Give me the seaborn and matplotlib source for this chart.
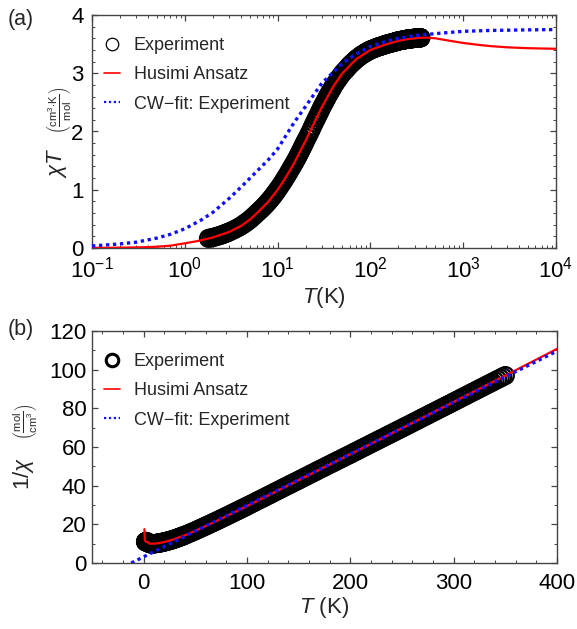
import numpy as np
import pandas as pd
import matplotlib
matplotlib.use("Agg")
import matplotlib.pyplot as plt
import seaborn as sns
from matplotlib.lines import Line2D
from matplotlib.ticker import LogLocator, MultipleLocator, NullFormatter, LogFormatterMathtext

# ---------------- measured susceptibility (chi*T, cm^3 K / mol) ----------------
T_exp = [
    1.8, 1.9, 2.0, 2.1, 2.2, 2.3, 2.4, 2.5, 2.6, 2.7, 2.8, 2.9, 3.0,
    3.2, 3.4, 3.6, 3.8, 4.0, 4.2, 4.4, 4.6, 4.8, 5.0,
    5.25, 5.5, 5.75, 6.0, 6.25, 6.5, 6.75, 7.0, 7.25, 7.5, 7.75, 8.0,
    8.25, 8.5, 8.75, 9.0, 9.25, 9.5, 9.75, 10.0,
    10.4, 10.8, 11.2, 11.6, 12.0, 12.4, 12.8, 13.2, 13.6, 14.0, 14.4, 14.8,
    15.2, 15.6, 16.0, 16.4, 16.8, 17.2, 17.6, 18.0, 18.4, 18.8, 19.2, 19.6, 20.0,
    20.8, 21.6, 22.4, 23.2, 24.0, 24.8, 25.6, 26.4, 27.2, 28.0, 28.8, 29.6,
    30.4, 31.2, 32.0, 32.8, 33.6, 34.4, 35.2, 36.0, 36.8, 37.6, 38.4, 39.2, 40.0,
    42, 44, 46, 48, 50, 52, 54, 56, 58, 60, 62, 64, 66, 68, 70, 72, 74, 76, 78, 80,
    82, 84, 86, 88, 90, 92, 94, 96, 98, 100,
    102.5, 105, 107.5, 110, 112.5, 115, 117.5, 120, 122.5, 125, 127.5, 130,
    132.5, 135, 137.5, 140, 142.5, 145, 147.5, 150, 152.5, 155, 157.5, 160,
    162.5, 165, 167.5, 170, 172.5, 175, 177.5, 180, 182.5, 185, 187.5, 190,
    192.5, 195, 197.5, 200, 202.5, 205, 207.5, 210, 212.5, 215, 217.5, 220,
    222.5, 225, 227.5, 230, 232.5, 235, 237.5, 240, 242.5, 245, 247.5, 250,
    252.5, 255, 257.5, 260, 262.5, 265, 267.5, 270, 272.5, 275, 277.5, 280,
    282.5, 285, 287.5, 290, 292.5, 295, 297.5, 300, 302.5, 305, 307.5, 310,
    312.5, 315, 317.5, 320, 322.5, 325, 327.5, 330, 332.5, 335, 337.5, 340,
    342.5, 345, 347.5, 350,
]
chiT_exp = [
    0.165, 0.172, 0.180, 0.189, 0.198, 0.207, 0.216, 0.225, 0.235, 0.245, 0.255, 0.265, 0.275,
    0.295, 0.315, 0.335, 0.355, 0.375, 0.397, 0.419, 0.441, 0.463, 0.485,
    0.514, 0.543, 0.571, 0.600, 0.625, 0.650, 0.675, 0.700, 0.725, 0.750, 0.775, 0.800,
    0.825, 0.850, 0.875, 0.900, 0.925, 0.950, 0.975, 1.000,
    1.038, 1.076, 1.114, 1.152, 1.190, 1.226, 1.262, 1.298, 1.334, 1.370, 1.402, 1.434,
    1.466, 1.498, 1.530, 1.562, 1.594, 1.626, 1.658, 1.690, 1.720, 1.750, 1.780, 1.810, 1.840,
    1.891, 1.942, 1.994, 2.045, 2.096, 2.147, 2.191, 2.233, 2.274, 2.316, 2.358, 2.399,
    2.436, 2.468, 2.500, 2.532, 2.564, 2.596, 2.626, 2.652, 2.678, 2.703, 2.729, 2.754, 2.780,
    2.828, 2.876, 2.920, 2.960, 3.000, 3.028, 3.056, 3.084, 3.112, 3.140, 3.160, 3.180,
    3.200, 3.220, 3.240, 3.254, 3.268, 3.282, 3.296, 3.310,
    3.320, 3.330, 3.340, 3.350, 3.360, 3.368, 3.376, 3.384, 3.392, 3.400,
    3.406, 3.413, 3.419, 3.425, 3.431, 3.438, 3.444, 3.450, 3.454, 3.458, 3.463, 3.467,
    3.471, 3.475, 3.479, 3.483, 3.488, 3.492, 3.496, 3.500, 3.503, 3.506, 3.508, 3.511,
    3.514, 3.517, 3.519, 3.522, 3.525, 3.528, 3.530, 3.533, 3.536, 3.539, 3.541, 3.544,
    3.547, 3.550, 3.552, 3.555, 3.557, 3.558, 3.560, 3.561, 3.562, 3.564, 3.565, 3.567,
    3.569, 3.570, 3.572, 3.573, 3.574, 3.576, 3.578, 3.579, 3.580, 3.582, 3.583, 3.585,
    3.586, 3.586, 3.587, 3.588, 3.589, 3.590, 3.590, 3.591, 3.592, 3.593, 3.593, 3.594,
    3.595, 3.596, 3.596, 3.597, 3.598, 3.599, 3.599, 3.600, 3.600, 3.601, 3.601, 3.602,
    3.602, 3.603, 3.603, 3.604, 3.604, 3.605, 3.605, 3.606, 3.606, 3.607, 3.607, 3.608,
    3.608, 3.609, 3.609, 3.610,
]

# ---------------- Husimi-cactus ansatz ----------------
T_hus = [0.1, 0.15, 0.2, 0.3, 0.4, 0.5, 0.7, 1.0, 1.4, 2.0, 3.0, 4.0, 5.0, 6.0, 8.0,
         10, 12, 15, 20, 25, 30, 40, 50, 70, 100, 150, 200, 250, 300, 350, 400,
         500, 700, 1000, 1500, 2000, 3000, 5000, 7000, 10000]
chiT_hus = [0.003, 0.004, 0.006, 0.010, 0.015, 0.022, 0.040, 0.080, 0.122, 0.180,
            0.275, 0.375, 0.485, 0.600, 0.800, 1.000, 1.190, 1.450, 1.840, 2.160,
            2.420, 2.780, 3.000, 3.240, 3.400, 3.500, 3.555, 3.585, 3.600, 3.610,
            3.612, 3.600, 3.560, 3.520, 3.485, 3.465, 3.445, 3.430, 3.425, 3.420]

# ---------------- Curie-Weiss fit ----------------
T_cw = [0.1, 0.2, 0.3, 0.5, 0.7, 1.0, 1.5, 2.0, 3.0, 4.0, 6.0, 8.0, 10, 15, 20, 30,
        50, 70, 100, 150, 200, 300, 500, 1000, 2000, 5000, 10000]
chiT_cw = [0.035, 0.070, 0.100, 0.170, 0.235, 0.330, 0.480, 0.610, 0.850, 1.040,
           1.320, 1.520, 1.700, 2.150, 2.430, 2.830, 3.170, 3.330, 3.460, 3.550,
           3.600, 3.645, 3.680, 3.720, 3.735, 3.745, 3.750]
# inverse susceptibility of the fit, a straight line in T
T_cw_lin = [-12.0, 400.0]
inv_cw_lin = [0.0, 109.6]

labels = ["Experiment", "Husimi Ansatz", "CW\u2212fit: Experiment"]

# ---------------- tables ----------------
exp_df = pd.DataFrame({"T": T_exp, "chiT": chiT_exp})
exp_df["inv"] = exp_df["T"] / exp_df["chiT"]
hus_df = pd.DataFrame({"T": T_hus, "chiT": chiT_hus})
hus_df["inv"] = hus_df["T"] / hus_df["chiT"]
hus_lin = hus_df[(hus_df["T"] >= 0.7) & (hus_df["T"] <= 400)]
cw_df = pd.DataFrame({"T": T_cw, "chiT": chiT_cw})
cw_lin = pd.DataFrame({"T": T_cw_lin, "inv": inv_cw_lin})

# ---------------- style ----------------
sns.set_theme(style="ticks")
plt.rcParams.update({
    "mathtext.fontset": "custom",
    "mathtext.rm": "Liberation Sans",
    "mathtext.it": "Liberation Sans:italic",
    "mathtext.bf": "Liberation Sans:bold",
    "axes.linewidth": 1.0,
    "axes.edgecolor": "#444444",
})
plt.rcParams["font.family"] = ["Liberation Sans", "DejaVu Sans"]

W, H = 577, 629
fig = plt.figure(figsize=(W / 100, H / 100), dpi=100)


def px_axes(left, top, right, bottom):
    return fig.add_axes([left / W, 1 - bottom / H, (right - left) / W, (bottom - top) / H])


ax1 = px_axes(92, 15, 556, 248)
ax2 = px_axes(92, 331, 557, 563)

RED = "#ff0000"
BLUE = "#1010ff"
MS_AREA = 150
EXP_LW = 1.6
TICK_FS = 16


def style_axes(ax):
    ax.tick_params(which="both", direction="in", top=True, right=True,
                   color="#444444", labelsize=TICK_FS, labelcolor="black")
    ax.tick_params(which="major", length=4.5, width=0.9)
    ax.tick_params(which="minor", length=2.5, width=0.7)
    for s in ax.spines.values():
        s.set_visible(True)


def add_blue_dots(ax):
    line = ax.lines[-1]
    line.set_dashes([1.0, 1.1])
    line.set_dash_capstyle("butt")


# ---------------- panel (a) ----------------
ax1.set_xscale("log")
sns.scatterplot(data=exp_df, x="T", y="chiT", ax=ax1, marker="o", s=MS_AREA,
                color="black", linewidth=EXP_LW, legend=False, zorder=2)
coll = ax1.collections[-1]
coll.set_facecolor("none")
coll.set_edgecolor("black")
sns.lineplot(data=hus_df, x="T", y="chiT", ax=ax1, color=RED, linewidth=1.6,
             sort=False, estimator=None, legend=False, zorder=3)
sns.lineplot(data=cw_df, x="T", y="chiT", ax=ax1, color=BLUE, linewidth=2.4,
             sort=False, estimator=None, legend=False, zorder=4)
add_blue_dots(ax1)

ax1.set_xlim(0.1, 1e4)
ax1.set_ylim(0, 4)
ax1.xaxis.set_major_locator(LogLocator(base=10, numticks=10))
ax1.xaxis.set_minor_locator(LogLocator(base=10, subs=np.arange(2, 10), numticks=50))
ax1.xaxis.set_major_formatter(LogFormatterMathtext())
ax1.xaxis.set_minor_formatter(NullFormatter())
ax1.yaxis.set_major_locator(MultipleLocator(1))
ax1.yaxis.set_minor_locator(MultipleLocator(0.2))
style_axes(ax1)
ax1.tick_params(axis="x", pad=6)
ax1.tick_params(axis="y", pad=6)
ax1.set_xlabel("")
ax1.set_ylabel("")

# ---------------- panel (b) ----------------
sns.scatterplot(data=exp_df, x="T", y="inv", ax=ax2, marker="o", s=MS_AREA,
                color="black", linewidth=EXP_LW, legend=False, zorder=2)
coll = ax2.collections[-1]
coll.set_facecolor("none")
coll.set_edgecolor("black")
sns.lineplot(data=hus_lin, x="T", y="inv", ax=ax2, color=RED, linewidth=1.6,
             sort=False, estimator=None, legend=False, zorder=3)
sns.lineplot(data=cw_lin, x="T", y="inv", ax=ax2, color=BLUE, linewidth=2.4,
             sort=False, estimator=None, legend=False, zorder=4)
add_blue_dots(ax2)

ax2.set_xlim(-50, 400)
ax2.set_ylim(0, 120)
ax2.xaxis.set_major_locator(MultipleLocator(100))
ax2.xaxis.set_minor_locator(MultipleLocator(20))
ax2.yaxis.set_major_locator(MultipleLocator(20))
ax2.yaxis.set_minor_locator(MultipleLocator(10))
style_axes(ax2)
ax2.tick_params(axis="x", pad=7)
ax2.tick_params(axis="y", pad=4)
ax2.set_xlabel("")
ax2.set_ylabel("")

# ---------------- legends ----------------
def make_legend(ax, mew):
    handles = [
        Line2D([], [], marker="o", ms=9.0, mfc="none", mec="black", mew=mew, ls="none"),
        Line2D([], [], color=RED, lw=1.2),
        Line2D([], [], color=BLUE, lw=1.6, ls=(0, (1, 1.2))),
    ]
    ax.legend(handles, labels, loc="upper left", bbox_to_anchor=(0.026, 0.905),
              frameon=False, fontsize=13, handlelength=0.9, handletextpad=0.75,
              labelspacing=0.68, borderpad=0, borderaxespad=0)


make_legend(ax1, 0.9)
make_legend(ax2, 2.2)

# ---------------- labels ----------------
def ftext(x, y, s, **kw):
    fig.text(x / W, 1 - y / H, s, **kw)


ftext(21, 20, "(a)", fontsize=15.5, ha="center", va="center")
ftext(21, 330, "(b)", fontsize=15.5, ha="center", va="center")

ftext(57, 163, r"$\chi T$", fontsize=16, rotation=90, ha="center", va="center")
ftext(59, 110, r"$\left(\frac{\mathrm{cm}^{3}\mathrm{\cdot K}}{\mathrm{mol}}\right)$",
      fontsize=11.5, rotation=90, ha="center", va="center")
ftext(24, 474, r"$\mathit{1/\chi}$", fontsize=16, rotation=90, ha="center", va="center")
ftext(26, 422, r"$\left(\frac{\mathrm{mol}}{\mathrm{cm}^{3}}\right)$",
      fontsize=11.5, rotation=90, ha="center", va="center")

ftext(324, 297, r"$T$(K)", fontsize=16, ha="center", va="center")
ftext(324, 607, r"$T$ (K)", fontsize=16, ha="center", va="center")

fig.savefig("out.png", dpi=100)
